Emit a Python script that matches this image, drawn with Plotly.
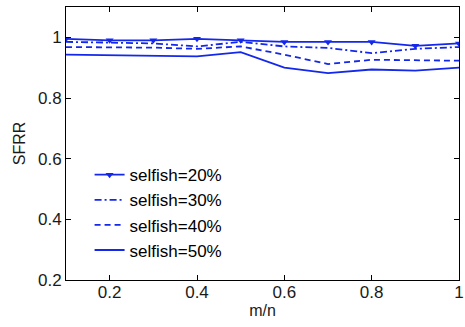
import plotly.graph_objects as go

x = [0.1, 0.2, 0.3, 0.4, 0.5, 0.6, 0.7, 0.8, 0.9, 1.0]
s20 = [0.995, 0.99, 0.99, 0.995, 0.99, 0.985, 0.985, 0.985, 0.972, 0.98]
s30 = [0.985, 0.983, 0.98, 0.97, 0.985, 0.97, 0.965, 0.948, 0.962, 0.968]
s40 = [0.968, 0.967, 0.966, 0.962, 0.97, 0.943, 0.912, 0.926, 0.925, 0.923]
s50 = [0.943, 0.941, 0.939, 0.937, 0.951, 0.90, 0.882, 0.894, 0.89, 0.90]
names = ["selfish=20%", "selfish=30%", "selfish=40%", "selfish=50%"]

blue = "rgb(20,40,235)"
font_fam = "Liberation Sans, Arial"
fig = go.Figure()
fig.add_trace(go.Scatter(x=x, y=s20, name=names[0], mode="lines+markers",
                         line=dict(color=blue, width=1.8),
                         marker=dict(symbol="triangle-down", size=7, color=blue)))
fig.add_trace(go.Scatter(x=x, y=s30, name=names[1], mode="lines",
                         line=dict(color=blue, width=1.8, dash="7px,3px,2px,3px")))
fig.add_trace(go.Scatter(x=x, y=s40, name=names[2], mode="lines",
                         line=dict(color=blue, width=1.8, dash="6px,4px")))
fig.add_trace(go.Scatter(x=x, y=s50, name=names[3], mode="lines",
                         line=dict(color=blue, width=1.8)))

axis_common = dict(showline=True, linecolor="black", linewidth=1, mirror="ticks",
                   ticks="inside", ticklen=5, tickcolor="black", showgrid=False,
                   zeroline=False, ticklabeloverflow="allow",
                   tickfont=dict(family=font_fam, size=17, color="#1a1a1a"))
fig.update_layout(
    width=465, height=327,
    margin=dict(l=66, r=1, t=7, b=47),
    paper_bgcolor="white", plot_bgcolor="white",
    xaxis=dict(range=[0.1, 1.0], tickvals=[0.2, 0.4, 0.6, 0.8, 1.0],
               ticktext=["0.2", "0.4", "0.6", "0.8", "1"], ticklabelstandoff=-3,
               title=dict(text="m/n", font=dict(family=font_fam, size=16, color="#1a1a1a"), standoff=0),
               **axis_common),
    yaxis=dict(range=[0.2, 1.1], tickvals=[0.2, 0.4, 0.6, 0.8, 1.0],
               ticktext=["0.2", "0.4", "0.6", "0.8", "1"],
               title=dict(text="SFRR", font=dict(family=font_fam, size=16, color="#1a1a1a"), standoff=8),
               **axis_common),
    legend=dict(x=0.06, y=0.45, xanchor="left", yanchor="top", bgcolor="rgba(0,0,0,0)",
                font=dict(family=font_fam, size=17, color="black"),
                tracegroupgap=0, itemwidth=30),
    showlegend=True,
)
fig.write_html("out.html")
